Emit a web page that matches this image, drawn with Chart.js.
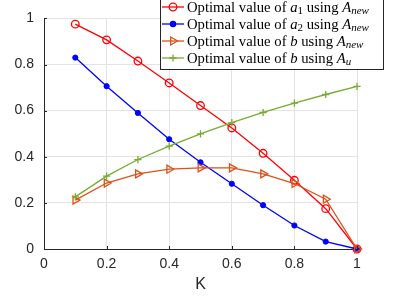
<!DOCTYPE html>
<html>
<head>
<meta charset="utf-8">
<script src="https://cdn.jsdelivr.net/npm/chart.js@4/dist/chart.umd.min.js"></script>
<style>
  html, body { margin: 0; padding: 0; background: #fff; }
  #wrap { width: 402px; height: 301px; }
</style>
</head>
<body>
<div id="wrap"><canvas id="chart" width="402" height="301"></canvas></div>
<script>
// ===== Data =====
const kValues = [0.1, 0.2, 0.3, 0.4, 0.5, 0.6, 0.7, 0.8, 0.9, 1.0];
const a1New = [0.975, 0.907, 0.815, 0.720, 0.622, 0.525, 0.415, 0.298, 0.175, 0.0];
const a2New = [0.830, 0.706, 0.590, 0.476, 0.376, 0.283, 0.190, 0.102, 0.032, 0.0];
const bNew = [0.212, 0.286, 0.326, 0.346, 0.352, 0.352, 0.326, 0.284, 0.216, 0.0];
const bAu = [0.226, 0.316, 0.388, 0.446, 0.499, 0.548, 0.592, 0.633, 0.670, 0.705];
const xTicks = [0, 0.2, 0.4, 0.6, 0.8, 1];
const yTicks = [0, 0.2, 0.4, 0.6, 0.8, 1];

// legend text pieces: [text, style] where style is 'r' roman, 'i' italic, 's' italic subscript, 'n' roman subscript
const legendLabels = [
  [['Optimal value of ', 'r'], ['a', 'i'], ['1', 'n'], [' using ', 'r'], ['A', 'i'], ['new', 's']],
  [['Optimal value of ', 'r'], ['a', 'i'], ['2', 'n'], [' using ', 'r'], ['A', 'i'], ['new', 's']],
  [['Optimal value of ', 'r'], ['b', 'i'], [' using ', 'r'], ['A', 'i'], ['new', 's']],
  [['Optimal value of ', 'r'], ['b', 'i'], [' using ', 'r'], ['A', 'i'], ['u', 's']]
];

const pts = vals => kValues.map((k, i) => ({ x: k, y: vals[i] }));

const AXIS = '#262626';
const GRID = '#e3e3e3';

// ===== Inward tick marks (MATLAB style) =====
const innerTicks = {
  id: 'innerTicks',
  afterDraw(chart) {
    const { ctx, chartArea: a, scales } = chart;
    ctx.save();
    ctx.strokeStyle = AXIS;
    ctx.lineWidth = 1;
    ctx.beginPath();
    xTicks.forEach(v => {
      const x = Math.round(scales.x.getPixelForValue(v)) + 0.5;
      ctx.moveTo(x, a.bottom);
      ctx.lineTo(x, a.bottom - 3);
    });
    yTicks.forEach(v => {
      const y = Math.round(scales.y.getPixelForValue(v)) + 0.5;
      ctx.moveTo(a.left, y);
      ctx.lineTo(a.left + 3, y);
    });
    ctx.stroke();
    ctx.restore();
  }
};

// ===== Custom legend (serif with math italics) =====
const mathLegend = {
  id: 'mathLegend',
  afterDraw(chart) {
    const ctx = chart.ctx;
    const left = 160.5, top = -0.5, right = 383.5, bottom = 69.5;
    ctx.save();
    ctx.fillStyle = '#fff';
    ctx.fillRect(left, top, right - left, bottom - top);
    ctx.strokeStyle = AXIS;
    ctx.lineWidth = 1;
    ctx.strokeRect(left, top, right - left, bottom - top);

    chart.data.datasets.forEach((ds, i) => {
      const y = 7 + i * 17;
      ctx.strokeStyle = ds.borderColor;
      ctx.lineWidth = ds.borderWidth;
      ctx.beginPath();
      ctx.moveTo(162, y);
      ctx.lineTo(184, y);
      ctx.stroke();
      ctx.fillStyle = ds.pointBackgroundColor;
      ctx.strokeStyle = ds.pointBorderColor;
      Chart.helpers.drawPoint(ctx, {
        pointStyle: ds.pointStyle,
        rotation: ds.pointRotation || 0,
        radius: ds.pointRadius,
        borderWidth: ds.pointBorderWidth
      }, 173, y);

      let x = 187;
      ctx.fillStyle = '#000';
      ctx.textBaseline = 'alphabetic';
      legendLabels[i].forEach(([t, s]) => {
        let font = '14.7px "Liberation Serif"';
        let dy = 4.5;
        if (s === 'i') font = 'italic 14.7px "Liberation Serif"';
        if (s === 's') { font = 'italic 11px "Liberation Serif"'; dy = 7; }
        if (s === 'n') { font = '11px "Liberation Serif"'; dy = 7; }
        ctx.font = font;
        ctx.fillText(t, x, y + dy);
        x += ctx.measureText(t).width;
      });
    });
    ctx.restore();
  }
};

// ===== Chart =====
const ctx = document.getElementById('chart').getContext('2d');
new Chart(ctx, {
  type: 'line',
  data: {
    datasets: [
      {
        data: pts(a1New),
        borderColor: '#ff0000',
        borderWidth: 1.3,
        pointStyle: 'circle',
        pointRadius: 3.8,
        pointBorderWidth: 1.3,
        pointBorderColor: '#ff0000',
        pointBackgroundColor: 'rgba(255,255,255,0)',
        order: 4
      },
      {
        data: pts(a2New),
        borderColor: '#0000ff',
        borderWidth: 1.3,
        pointStyle: 'circle',
        pointRadius: 2.6,
        pointBorderWidth: 1,
        pointBorderColor: '#0000ff',
        pointBackgroundColor: '#0000ff',
        order: 3
      },
      {
        data: pts(bNew),
        borderColor: '#d95319',
        borderWidth: 1.3,
        pointStyle: 'triangle',
        pointRotation: 90,
        pointRadius: 4.6,
        pointBorderWidth: 1.3,
        pointBorderColor: '#d95319',
        pointBackgroundColor: 'rgba(255,255,255,0)',
        order: 2
      },
      {
        data: pts(bAu),
        borderColor: '#77ac30',
        borderWidth: 1.3,
        pointStyle: 'cross',
        pointRadius: 3.6,
        pointBorderWidth: 1.3,
        pointBorderColor: '#77ac30',
        pointBackgroundColor: '#77ac30',
        order: 1
      }
    ]
  },
  options: {
    responsive: false,
    animation: false,
    devicePixelRatio: 1,
    layout: { padding: { left: 0, top: 14, right: 45, bottom: 0 } },
    plugins: { legend: { display: false }, tooltip: { enabled: false } },
    elements: { line: { tension: 0 } },
    datasets: { line: { clip: false } },
    scales: {
      x: {
        type: 'linear',
        min: 0, max: 1,
        afterBuildTicks: s => { s.ticks = xTicks.map(v => ({ value: v })); },
        afterFit: s => { s.height = 52; },
        grid: { color: GRID, drawTicks: false },
        border: { color: AXIS, width: 1 },
        ticks: {
          color: AXIS, padding: 7,
          font: { family: '"Liberation Sans", Arial', size: 14 },
          callback: v => String(Math.round(v * 10) / 10)
        },
        title: {
          display: true, text: 'K', color: AXIS,
          font: { family: '"Liberation Sans", Arial', size: 16 },
          padding: { top: 2, bottom: 7 }
        }
      },
      y: {
        min: 0, max: 1,
        afterBuildTicks: s => { s.ticks = yTicks.map(v => ({ value: v })); },
        afterFit: s => { s.width = 44; },
        grid: { color: GRID, drawTicks: false },
        border: { color: AXIS, width: 1 },
        ticks: {
          color: AXIS, padding: 10,
          font: { family: '"Liberation Sans", Arial', size: 14 },
          callback: v => String(Math.round(v * 10) / 10)
        }
      }
    }
  },
  plugins: [innerTicks, mathLegend]
});
</script>
</body>
</html>
